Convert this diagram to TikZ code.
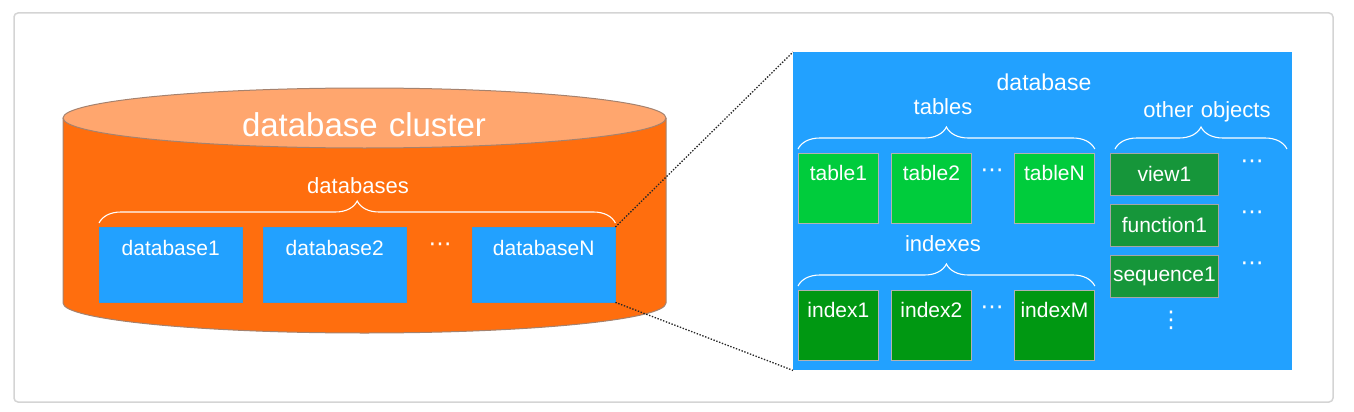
\documentclass[tikz,border=0pt]{standalone}
\usepackage{fontspec}
\setmainfont{Liberation Sans}
\newfontfamily\dotfont{DejaVu Sans}
\usetikzlibrary{decorations.pathreplacing}
\definecolor{dbblue}{RGB}{34,161,255}
\definecolor{clorange}{RGB}{255,110,14}
\definecolor{cltop}{RGB}{255,166,110}
\definecolor{clline}{RGB}{165,130,110}
\definecolor{tabgreen}{RGB}{0,204,60}
\definecolor{idxgreen}{RGB}{0,152,18}
\definecolor{objgreen}{RGB}{22,150,58}
\definecolor{framegray}{RGB}{212,212,212}

\begin{document}
\begin{tikzpicture}[x=1pt,y=-1pt,
    title/.style={text=white,font=\fontsize{33}{33}\selectfont},
    grouptext/.style={text=white,font=\fontsize{22}{22}\selectfont},
    boxtext/.style={text=white,font=\fontsize{21}{21}\selectfont},
    dots/.style={text=white,font=\dotfont\fontsize{23}{23}\selectfont},
    dbbox/.style={fill=dbblue,draw=dbblue!80!gray,anchor=north west,minimum width=143pt,minimum height=75pt},
    tabbox/.style={fill=tabgreen,draw=black!30,line width=0.8pt,anchor=north west,minimum width=80pt,minimum height=70pt},
    idxbox/.style={fill=idxgreen,draw=black!30,line width=0.8pt,anchor=north west,minimum width=80pt,minimum height=70pt},
    objbox/.style={fill=objgreen,draw=black!35,line width=0.8pt,anchor=north west,minimum width=108pt,minimum height=42pt,boxtext},
    brace/.style={decorate,decoration={brace,amplitude=22pt,raise=4pt},draw=white,line width=1.1pt},
    zoomline/.style={draw=black!85,line width=1.3pt,dash pattern=on 1.4pt off 1.6pt}]
  \tikzstyle{every node}+=[inner sep=0pt]
  \useasboundingbox (0,0) rectangle (1354,412);
  % card frame
  \draw [framegray,line width=1.5pt,rounded corners=4pt] (14,13) rectangle (1333,402);
  % cluster cylinder
  \fill [clorange] (63,118) -- (63,303) arc[start angle=180,end angle=0,x radius=301.5,y radius=30] -- (666,118) -- cycle;
  \draw [clline,line width=1pt] (63,118) -- (63,303) arc[start angle=180,end angle=0,x radius=301.5,y radius=30] -- (666,118);
  \draw [clline,fill=cltop,line width=1pt] (364.5,118) ellipse[x radius=301.5,y radius=30];
  \node [title] (cluster) at (364,125) {database\,\,cluster};
  % databases
  \node [grouptext] (dbtext) at (358,186) {databases};
  \node [dbbox,label={[boxtext,anchor=north,yshift=-13pt]north:database1}] (db1) at (99,227) {};
  \node [dbbox,label={[boxtext,anchor=north,yshift=-13pt]north:database2}] (db2) at (263,227) {};
  \node [dots] (dbdots) at (440,247) {⋯};
  \node [dbbox,label={[boxtext,anchor=north,yshift=-13pt]north:databaseN}] (dbN) at (472,227) {};
  \draw [brace] (db1.north west) -- (dbN.north east);
  % database contents
  \node [fill=dbblue,anchor=north west,minimum width=499pt,minimum height=318pt] (panel) at (793,52) {};
  \draw [zoomline] (dbN.north east) -- (panel.north west);
  \draw [zoomline] (dbN.south east) -- (panel.south west);
  \node [grouptext,font=\fontsize{23}{23}\selectfont] (dbname) at (1044,82) {database};
  \node [grouptext] (tabtext) at (943,107) {tables};
  \node [tabbox,label={[boxtext,anchor=north,yshift=-12pt]north:table1}] (tab1) at (798,153) {};
  \node [tabbox,label={[boxtext,anchor=north,yshift=-12pt]north:table2}] (tab2) at (891,153) {};
  \node [dots] (tabdots) at (992,173) {⋯};
  \node [tabbox,label={[boxtext,anchor=north,yshift=-12pt]north:tableN}] (tabN) at (1014,153) {};
  \draw [brace] (tab1.north west) -- (tabN.north east);
  \node [grouptext] (idxtext) at (943,244) {indexes};
  \node [idxbox,label={[boxtext,anchor=north,yshift=-12pt]north:index1}] (idx1) at (798,290) {};
  \node [idxbox,label={[boxtext,anchor=north,yshift=-12pt]north:index2}] (idx2) at (891,290) {};
  \node [dots] (idxdots) at (992,310) {⋯};
  \node [idxbox,label={[boxtext,anchor=north,yshift=-12pt]north:indexM}] (idxM) at (1014,290) {};
  \draw [brace] (idx1.north west) -- (idxM.north east);
  % other objects
  \node [grouptext] (objtext) at (1207,112) {other\,\,objects};
  \node [objbox] (view1) at (1110,153) {view1};
  \node [objbox] (func1) at (1110,204) {function1};
  \node [objbox] (seq1) at (1110,255) {sequence1};
  \node [dots] (viewdots) at (1252,164) {⋯};
  \node [dots] (funcdots) at (1252,215) {⋯};
  \node [dots] (seqdots) at (1252,266) {⋯};
  \node [dots] (objdots) at (1171,320) {⋮};
  \coordinate (objend) at (1287,153);
  \draw [brace] ([xshift=5pt]view1.north west) -- (objend);
\end{tikzpicture}
\end{document}
